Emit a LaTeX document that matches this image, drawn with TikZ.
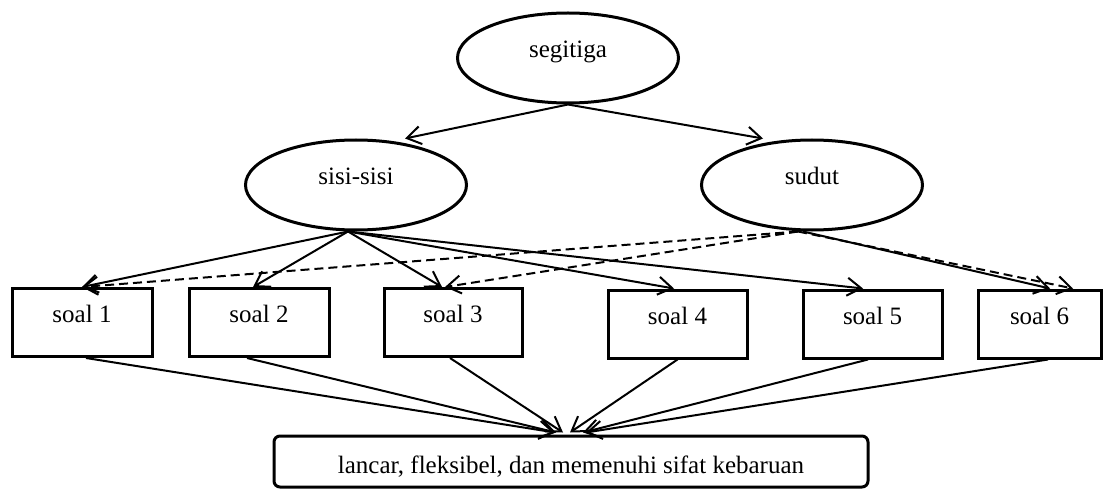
\documentclass[tikz,border=0pt]{standalone}
\usepackage{fontspec}
\setmainfont{Liberation Serif}
\usetikzlibrary{shapes.geometric,arrows.meta}
\begin{document}
\begin{tikzpicture}[x=1pt,y=-1pt,
  every node/.style={font=\fontsize{25}{30}\selectfont},
  oval/.style={ellipse, draw, line width=3pt, inner sep=0pt,
    minimum width=221pt, minimum height=90pt, text height=9pt, text depth=9pt},
  soalbox/.style={rectangle, draw, line width=3pt, inner sep=0pt,
    minimum height=68pt, text height=9pt, text depth=9pt},
  endbox/.style={rectangle, draw, line width=3pt, rounded corners=6pt,
    inner xsep=0pt, inner ysep=4pt, minimum width=594pt,
    text height=33pt, text depth=10pt},
  conn/.style={line width=2pt, -{Straight Barb[length=14pt,width=18pt]}},
  dconn/.style={conn, dash pattern=on 9pt off 5pt}]
\useasboundingbox (0,0) rectangle (1105,489);
% nodes
\node[oval] (seg) at (568,58) {segitiga};
\node[oval] (sisi) at (356,185) {sisi-sisi};
\node[oval] (sudut) at (812,185) {sudut};
\node[soalbox, minimum width=140pt] (s1) at (82,322.5) {soal 1};
\node[soalbox, minimum width=140pt] (s2) at (259,322.5) {soal 2};
\node[soalbox, minimum width=138pt] (s3) at (453,322.5) {soal 3};
\node[soalbox, minimum width=139pt] (s4) at (677.5,324) {soal 4};
\node[soalbox, minimum width=139pt] (s5) at (872.5,324) {soal 5};
\node[soalbox, minimum width=123pt] (s6) at (1039.5,324) {soal 6};
\node[endbox] (bot) at (571,461.5) {lancar, fleksibel, dan memenuhi sifat kebaruan};
% top level
\draw[conn] (seg.south) -- ([xshift=49pt]sisi.north);
\draw[conn] (seg.south) -- ([xshift=-49pt]sudut.north);
% sisi-sisi to questions
\draw[conn] ([xshift=-8pt]sisi.south) -- (s1.north);
\draw[conn] ([xshift=-8pt]sisi.south) -- ([xshift=-6pt]s2.north);
\draw[conn] ([xshift=-8pt]sisi.south) -- ([xshift=-11pt]s3.north);
\draw[conn] ([xshift=-8pt]sisi.south) -- ([xshift=-3.5pt]s4.north);
\draw[conn] ([xshift=-8pt]sisi.south) -- ([xshift=-9.5pt]s5.north);
% sudut to questions
\draw[dconn] ([xshift=-14pt]sudut.south) -- (s1.north);
\draw[dconn] ([xshift=-14pt]sudut.south) -- ([xshift=-8pt]s3.north);
\draw[conn] ([xshift=-9pt]sudut.south) -- ([xshift=10.5pt]s6.north);
\draw[dconn] ([xshift=-14pt]sudut.south) -- ([xshift=33.5pt]s6.north);
% questions to result
\draw[conn] ([xshift=4pt]s1.south) -- ([xshift=-16pt,yshift=2pt]bot.north);
\draw[conn] ([xshift=-12pt]s2.south) -- ([xshift=-15pt,yshift=2pt]bot.north);
\draw[conn] ([xshift=-3pt]s3.south) -- ([xshift=-8pt,yshift=2pt]bot.north);
\draw[conn] (s4.south) -- ([xshift=-1pt,yshift=2pt]bot.north);
\draw[conn] ([xshift=-4.5pt]s5.south) -- ([xshift=12pt,yshift=2pt]bot.north);
\draw[conn] ([xshift=8.5pt]s6.south) -- ([xshift=15pt,yshift=2pt]bot.north);
\end{tikzpicture}
\end{document}
